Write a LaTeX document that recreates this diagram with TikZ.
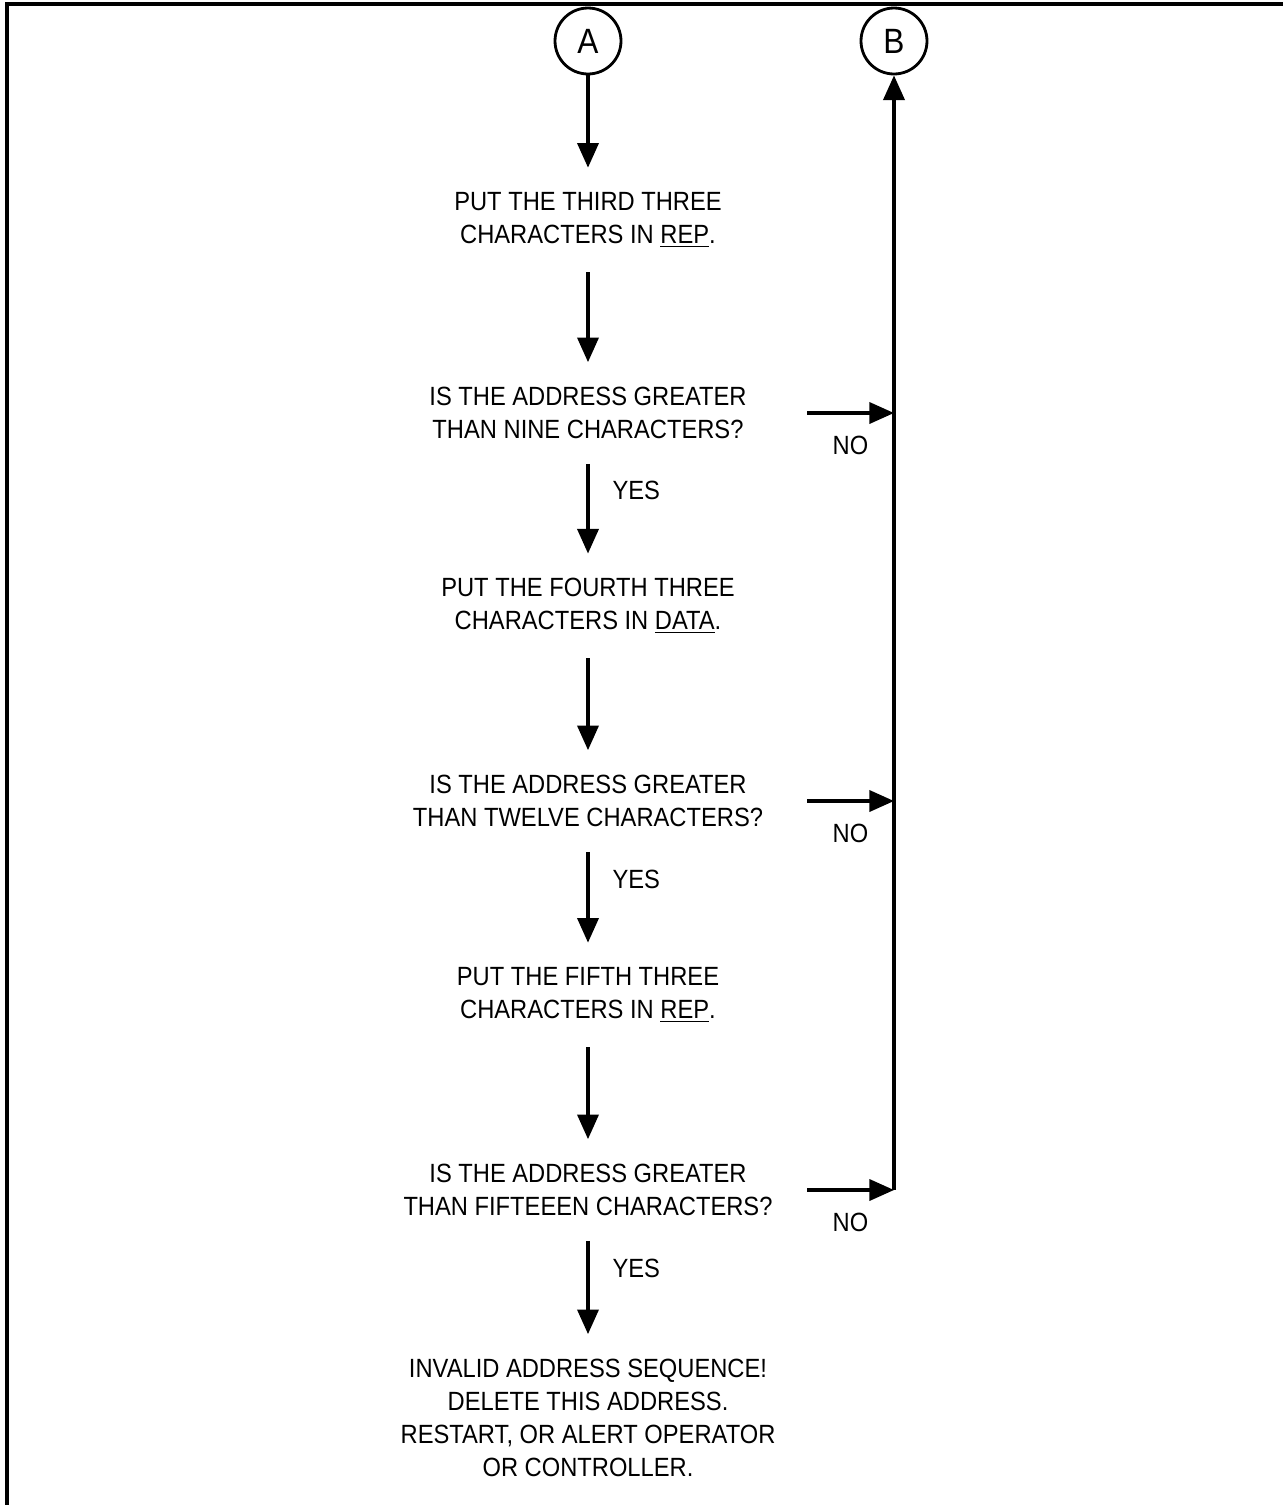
\documentclass[tikz,border=0pt]{standalone}
\usepackage{fontspec}
\setmainfont[FakeStretch=0.9]{Liberation Sans}
\usetikzlibrary{arrows.meta,positioning}

\begin{document}
\begin{tikzpicture}[x=0.02cm,y=-0.02cm,
    arr/.style={-{Triangle[length=14pt,width=12pt]},line width=1.9pt},
    txt/.style={align=center,inner sep=0pt,outer ysep=0.5cm,font=\fontsize{15}{18.8}\selectfont},
    conn/.style={circle,draw,line width=1.6pt,minimum size=1.32cm,inner sep=0pt,font=\fontsize{20}{22}\selectfont},
    lbl/.style={inner sep=0pt,font=\fontsize{15}{18}\selectfont}]
    \useasboundingbox (0,0) rectangle (1283,1505);
    \draw[line width=2.6pt] (7,1505) -- (7,4) -- (1283,4); % frame

    \node[conn] (A) at (588,41) {A};
    \node[conn] (B) at (894,41) {B};

    \node[txt] (put1) at (588,220) {PUT THE THIRD THREE\\CHARACTERS IN \underline{REP}.};
    \node[txt] (ask1) at (588,413) {IS THE ADDRESS GREATER\\THAN NINE CHARACTERS?};
    \node[txt] (put2) at (588,606) {PUT THE FOURTH THREE\\CHARACTERS IN \underline{DATA}.};
    \node[txt] (ask2) at (588,801) {IS THE ADDRESS GREATER\\THAN TWELVE CHARACTERS?};
    \node[txt] (put3) at (588,995) {PUT THE FIFTH THREE\\CHARACTERS IN \underline{REP}.};
    \node[txt] (ask3) at (588,1190) {IS THE ADDRESS GREATER\\THAN FIFTEEEN CHARACTERS?};
    \node[txt] (bad) at (588,1418) {INVALID ADDRESS SEQUENCE!\\DELETE THIS ADDRESS.\\RESTART, OR ALERT OPERATOR\\OR CONTROLLER.};

    \coordinate (nox) at (807,0); % where the NO arrows start

    % main line
    \draw[arr] (A) -- (put1);
    \draw[arr] (put1) -- (ask1);
    \draw[arr] (ask1) -- node[lbl,pos=0.3,right=13pt] {YES} (put2);
    \draw[arr] (put2) -- (ask2);
    \draw[arr] (ask2) -- node[lbl,pos=0.3,right=13pt] {YES} (put3);
    \draw[arr] (put3) -- (ask3);
    \draw[arr] (ask3) -- node[lbl,pos=0.3,right=13pt] {YES} (bad);

    % NO branches
    \draw[arr] (ask1 -| nox) -- node[lbl,below=12pt] {NO} (ask1 -| B);
    \draw[arr] (ask2 -| nox) -- node[lbl,below=12pt] {NO} (ask2 -| B);
    \draw[arr] (ask3 -| nox) -- node[lbl,below=12pt] {NO} (ask3 -| B);
    \draw[arr] (ask3 -| B) -- (B);
\end{tikzpicture}
\end{document}
